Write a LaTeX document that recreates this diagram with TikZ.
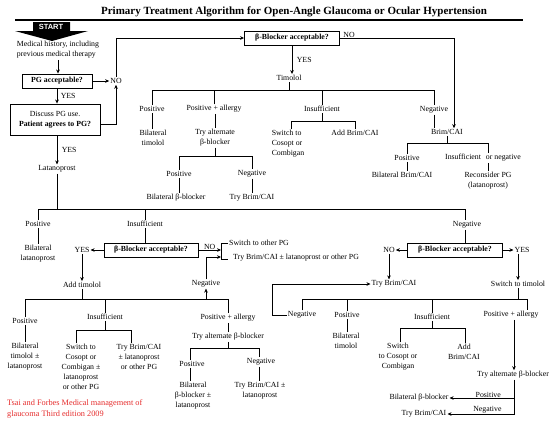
\documentclass[tikz,border=0pt]{standalone}
\usepackage{fontspec}
\setmainfont{Liberation Serif}
\newfontfamily\startfont{Liberation Sans}
\usetikzlibrary{arrows.meta,calc}
\definecolor{citered}{RGB}{230,45,45}
\begin{document}
\begin{tikzpicture}[x=1pt,y=-1pt,
  font=\fontsize{7.8}{10}\selectfont,
  txt/.style={inner sep=1pt, align=center},
  qbox/.style={draw, line width=0.9pt, font=\fontsize{7.8}{10}\selectfont\bfseries, inner sep=2pt, minimum height=14pt},
  ln/.style={line width=0.7pt},
  arr/.style={ln, -{Stealth[length=4pt,width=3.6pt]}},
  lab/.style={inner sep=0.5pt}]
\useasboundingbox (0,0) rectangle (553,421);
\fill[white] (0,0) rectangle (553,421);

% title
\node[font=\fontsize{11}{13}\selectfont\bfseries] (title) at (294,12) {Primary Treatment Algorithm for Open-Angle Glaucoma or Ocular Hypertension};
\draw[line width=1.3pt] (15,20) -- (523,20);

% start
\fill (33,22) -- (70,22) -- (70,31) -- (88,31) -- (52,41) -- (15,31) -- (33,31) -- cycle;
\node[text=white, font=\startfont\bfseries\fontsize{7.5}{8}\selectfont, inner sep=0pt] (start) at (51,27) {START};
\node[txt, align=left] (med) at (58,50) {Medical history, including\\previous medical therapy};

\node[qbox, minimum width=70pt] (pgacc) at (57,81) {PG acceptable?};
\node[txt] (no1) at (116,81) {NO};
\node[draw, line width=0.9pt, minimum width=90pt, minimum height=31pt, inner sep=2pt, align=center] (discuss) at (55,119.5) {Discuss PG use.\\\textbf{Patient agrees to PG?}};
\node[txt] (lat) at (57,169) {Latanoprost};

\draw[arr] (med.south) -- (med.south |- pgacc.north);
\draw[arr] (pgacc.east) -- (no1.west);
\draw[arr] (pgacc.south) -- node[right, lab, xshift=3pt] (y1) {YES} (pgacc.south |- discuss.north);
\draw[arr] ([yshift=-4.5pt]discuss.east) -| (no1.south);
\draw[arr] (discuss.south -| lat) -- node[right, lab, xshift=4pt] (y2) {YES} (lat.north);

% first beta-blocker box
\node[qbox, minimum width=95pt] (bb1) at (292,38) {β-Blocker acceptable?};
\draw[arr] (no1.north) |- (bb1.west);
\node[txt] (timolol) at (289,78) {Timolol};
\draw[arr] (bb1.south) -- node[right, lab, xshift=4pt] (y3) {YES} (bb1.south |- timolol.north);

% timolol tree
\coordinate (bar1) at (0,90);
\node[txt] (tpos) at (152,109) {Positive};
\node[txt] (tpa) at (214,109) {Positive + allergy};
\node[txt] (tins) at (322,109) {Insufficient};
\node[txt] (tneg) at (434,110) {Negative};
\draw[ln] (timolol.south) -- (timolol.south |- bar1);
\draw[ln] (tpos.north) -- (tpos.north |- bar1) -- (tneg.north |- bar1) -- (tneg.north);
\draw[ln] (tpa.north) -- (tpa.north |- bar1);
\draw[ln] (tins.north) -- (tins.north |- bar1);

\node[txt] (tbil) at (153,138) {Bilateral\\timolol};
\draw[ln] (tpos.south) -- (tpos.south |- tbil.north);
\node[txt] (talt) at (215,138) {Try alternate\\β-blocker};
\draw[ln] (tpa.south -| talt) -- (talt.north);
\coordinate (bar2) at (0,156);
\node[txt] (tapos) at (179,174) {Positive};
\node[txt] (taneg) at (252,174) {Negative};
\draw[ln] (talt.south) -- (talt.south |- bar2);
\draw[ln] (tapos.north) -- (tapos.north |- bar2) -- (taneg.north |- bar2) -- (taneg.north);
\node[txt] (tabil) at (176,198) {Bilateral β-blocker};
\node[txt] (tatry) at (252,198) {Try Brim/CAI};
\draw[ln] (tapos.south) -- (tapos.south |- tabil.north);
\draw[ln] (taneg.south) -- (taneg.south |- tatry.north);

\coordinate (bar3) at (0,121);
\node[txt, align=left] (tsw) at (288,144) {Switch to\\Cosopt or\\Combigan};
\node[txt] (tadd) at (355,133) {Add Brim/CAI};
\draw[ln] (tins.south) -- (tins.south |- bar3);
\draw[ln] ([xshift=3pt]tsw.north) -- ([xshift=3pt]tsw.north |- bar3) -- (tadd.north |- bar3) -- (tadd.north);

% Brim/CAI
\node[txt] (brim1) at (447,132) {Brim/CAI};
\draw[ln] (tneg.south) -- (tneg.south |- brim1.north);
\draw[arr] (bb1.east) -| node[pos=0.04, above, lab] (n2) {NO} ([xshift=7pt]brim1.north);
\coordinate (bar4) at (0,143);
\node[txt] (bpos) at (407,158) {Positive};
\node[txt] (bins) at (483,158) {Insufficient\hspace{3pt} or negative};
\draw[ln] (brim1.south) -- (brim1.south |- bar4);
\draw[ln] (bpos.north) -- (bpos.north |- bar4) -- ([xshift=5pt]bins.north |- bar4) -- ([xshift=5pt]bins.north);
\node[txt] (bbil) at (402,175) {Bilateral Brim/CAI};
\node[txt] (brec) at (488,181) {Reconsider PG\\(latanoprost)};
\draw[ln] (bpos.south) -- (bpos.south |- bbil.north);
\draw[ln] ([xshift=5pt]bins.south) -- ([xshift=5pt]bins.south |- brec.north);

% latanoprost tree
\coordinate (bar5) at (0,209);
\node[txt] (lpos) at (38,224) {Positive};
\node[txt] (lins) at (145,224) {Insufficient};
\node[txt] (lneg) at (467,225) {Negative};
\draw[ln] (lat.south) -- (lat.south |- bar5);
\draw[ln] (lpos.north) -- (lpos.north |- bar5) -- ([xshift=-2pt]lneg.north |- bar5) -- ([xshift=-2pt]lneg.north);
\draw[ln] (lins.north) -- (lins.north |- bar5);
\node[txt] (lbil) at (38,254) {Bilateral\\latanoprost};
\draw[ln] (lpos.south) -- (lpos.south |- lbil.north);

% second beta-blocker box
\node[qbox, minimum width=94pt] (bb2) at (151,250) {β-Blocker acceptable?};
\draw[ln] (lins.south) -- (lins.south |- bb2.north);
\node[txt] (yes3) at (82,250) {YES};
\draw[arr] (bb2.west) -- (yes3.east);
\node[txt, anchor=west] (sw1) at (228,243) {Switch to other PG};
\node[txt, anchor=west] (sw2) at (232,258) {Try Brim/CAI ± latanoprost or other PG};
\coordinate (brt) at (221,243);
\coordinate (brb) at (221,259);
\draw[ln] (sw1.west) -- (brt) -- (brb) -- (brb -| sw1.west);
\draw[arr] (bb2.east) -- node[above, lab] (n3) {NO} (bb2.east -| brt);
\coordinate (brn) at (221,257);
\node[txt] (aneg) at (206,284) {Negative};
\draw[arr] (aneg.north) |- (brn);

% add timolol tree
\node[txt] (addtim) at (82,285) {Add timolol};
\draw[arr] (yes3.south) -- (yes3.south |- addtim.north);
\coordinate (bar6) at (0,299);
\node[txt] (apos) at (25,321) {Positive};
\node[txt] (ains) at (105,317) {Insufficient};
\node[txt] (apa) at (228,318) {Positive + allergy};
\draw[ln] (addtim.south) -- (addtim.south |- bar6);
\draw[ln] (apos.north) -- (apos.north |- bar6) -- (apa.north |- bar6) -- (apa.north);
\draw[ln] (ains.north) -- (ains.north |- bar6);
\draw[arr] (aneg.south |- bar6) -- (aneg.south);

\node[txt] (abil) at (25,357) {Bilateral\\timolol ±\\latanoprost};
\draw[ln] (apos.south) -- (apos.south |- abil.north);
\coordinate (bar7) at (0,330);
\node[txt] (asw) at (81,367) {Switch to\\Cosopt or\\Combigan ±\\latanoprost\\or other PG};
\node[txt] (atry) at (139,357) {Try Brim/CAI\\± latanoprost\\or other PG};
\draw[ln] (ains.south) -- (ains.south |- bar7);
\draw[ln] ([xshift=-5pt]asw.north) -- ([xshift=-5pt]asw.north |- bar7) -- ([xshift=-8pt]atry.north |- bar7) -- ([xshift=-8pt]atry.north);

\node[txt] (aalt) at (228,337) {Try alternate β-blocker};
\draw[ln] (apa.south) -- (apa.south |- aalt.north);
\coordinate (bar8) at (0,348);
\node[txt] (aapos) at (192,364) {Positive};
\node[txt] (aaneg) at (261,362) {Negative};
\draw[ln] (aalt.south) -- (aalt.south |- bar8);
\draw[ln] ([xshift=-2pt]aapos.north) -- ([xshift=-2pt]aapos.north |- bar8) -- ([xshift=-2pt]aaneg.north |- bar8) -- ([xshift=-2pt]aaneg.north);
\node[txt] (aabil) at (193,396) {Bilateral\\β-blocker ±\\latanoprost};
\node[txt] (aatry) at (260,391) {Try Brim/CAI ±\\latanoprost};
\draw[ln] ([xshift=-2pt]aapos.south) -- ([xshift=-2pt]aapos.south |- aabil.north);
\draw[ln] ([xshift=-2pt]aaneg.south) -- ([xshift=-2pt]aaneg.south |- aatry.north);

% citation
\node[txt, align=left, anchor=west, text=citered, font=\fontsize{8.3}{11}\selectfont] (cite) at (6,409) {Tsai and Forbes Medical management of\\glaucoma Third edition 2009};

% third beta-blocker box
\node[qbox, minimum width=95pt] (bb3) at (455,250) {β-Blocker acceptable?};
\draw[ln] ([xshift=-2pt]lneg.south) -- ([xshift=-2pt]lneg.south |- bb3.north);
\node[txt] (no4) at (389,250) {NO};
\node[txt] (yes4) at (522,250) {YES};
\draw[arr] (bb3.west) -- (no4.east);
\draw[arr] (bb3.east) -- (yes4.west);
\node[txt] (rtry) at (394,284) {Try Brim/CAI};
\node[txt] (rsw) at (518,284) {Switch to timolol};
\draw[arr] (no4.south) -- (no4.south |- rtry.north);
\draw[arr] ([xshift=-4pt]yes4.south) -- ([xshift=-4pt]yes4.south |- rsw.north);

\coordinate (bar9) at (0,299);
\node[txt] (rneg) at (302,315) {Negative};
\node[txt] (rpos) at (347,315) {Positive};
\node[txt] (rins) at (432,317) {Insufficient};
\node[txt] (rpa) at (511,315) {Positive + allergy};
\draw[ln] (rsw.south) -- (rsw.south |- bar9);
\draw[ln] (rneg.north) -- (rneg.north |- bar9) -- ([xshift=16pt]rpa.north |- bar9) -- ([xshift=16pt]rpa.north);
\draw[ln] (rpos.north) -- (rpos.north |- bar9);
\draw[ln] (rins.north) -- (rins.north |- bar9);
\coordinate (rleft) at (272,0);
\draw[arr] (rneg.west) -- (rneg.west -| rleft) |- (rtry.west);

\node[txt] (rbil) at (346,341) {Bilateral\\timolol};
\draw[ln] (rpos.south) -- (rpos.south |- rbil.north);
\coordinate (bar10) at (0,328);
\node[txt] (rsw2) at (398,357) {Switch\\to Cosopt or\\Combigan};
\node[txt] (radd) at (464,352) {Add\\Brim/CAI};
\draw[ln] (rins.south) -- (rins.south |- bar10);
\draw[ln] ([xshift=2pt]rsw2.north) -- ([xshift=2pt]rsw2.north |- bar10) -- ([xshift=1pt]radd.north |- bar10) -- ([xshift=1pt]radd.north);

\node[txt] (ralt) at (513,375) {Try alternate β-blocker};
\draw[arr] ([xshift=3pt]rpa.south) -- ([xshift=3pt]rpa.south |- ralt.north);
\node[txt] (rbil2) at (419,398) {Bilateral β-blocker};
\node[txt] (rtry2) at (424,414) {Try Brim/CAI};
\draw[arr] ([xshift=1pt]ralt.south) |- node[pos=0.7, above, lab] (rlp) {Positive} (rbil2.east);
\draw[arr] ([xshift=1pt]ralt.south) |- node[pos=0.7, above, lab] (rln) {Negative} (rtry2.east);
\end{tikzpicture}
\end{document}
